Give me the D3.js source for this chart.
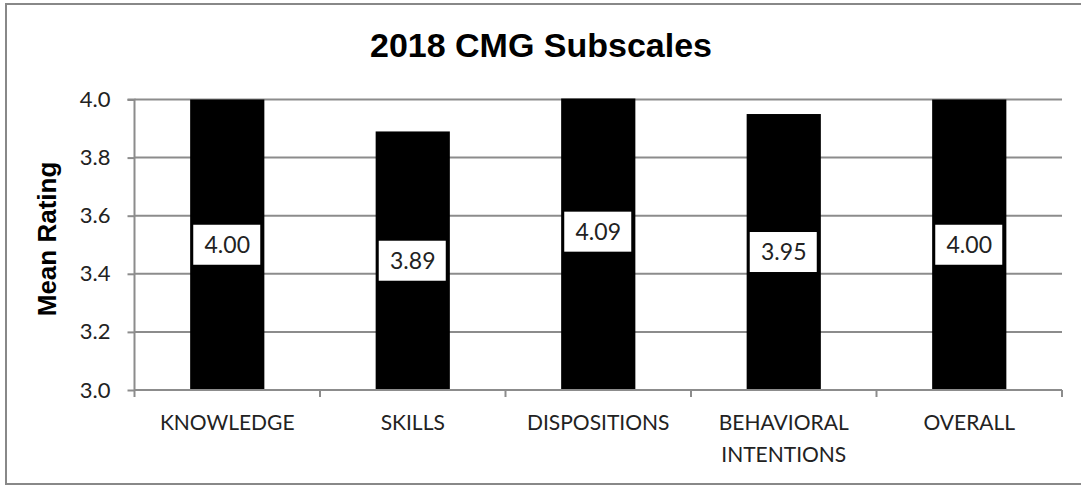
<!DOCTYPE html>
<html><head><meta charset="utf-8">
<script src="https://cdn.jsdelivr.net/npm/d3@7/dist/d3.min.js"></script>
<style>body{margin:0;background:#fff}</style>
</head><body>
<svg id="c" width="1081" height="485"></svg>
<script>
const categories = [["KNOWLEDGE"], ["SKILLS"], ["DISPOSITIONS"], ["BEHAVIORAL","INTENTIONS"], ["OVERALL"]];
const values = [4.00, 3.89, 4.09, 3.95, 4.00];
const valueLabels = ["4.00", "3.89", "4.09", "3.95", "4.00"];
const yTicks = [3.0, 3.2, 3.4, 3.6, 3.8, 4.0];
const title = "2018 CMG Subscales";
const yTitle = "Mean Rating";

const svg = d3.select("#c");
const L = 134.5, R = 1062, T = 99.5, B = 390;
const keys = categories.map((c, i) => i);
const x = d3.scaleBand().domain(keys).range([L, R]).paddingInner(0.6).paddingOuter(0.3);
const y = d3.scaleLinear().domain([3.0, 4.0]).range([B, T]);

// border
svg.append("rect").attr("x", 6).attr("y", 4).attr("width", 1080).attr("height", 480)
  .attr("fill", "#fff").attr("stroke", "#888").attr("stroke-width", 2);

// title
svg.append("text").attr("x", 541).attr("y", 57).attr("text-anchor", "middle")
  .attr("font-family", "Liberation Sans, Arial, sans-serif").attr("font-weight", "bold")
  .attr("font-size", 34).attr("fill", "#000").text(title);

// gridlines
svg.append("g").selectAll("line").data(yTicks).join("line")
  .attr("x1", L).attr("x2", R).attr("y1", d => y(d)).attr("y2", d => y(d))
  .attr("stroke", "#8c8c8c").attr("stroke-width", 2);

// bars (clipped at axis max)
svg.append("defs").append("clipPath").attr("id", "pc").append("rect")
  .attr("x", L).attr("y", T - 1).attr("width", R - L).attr("height", B - T + 1);
svg.append("g").attr("clip-path", "url(#pc)").selectAll("rect").data(values).join("rect")
  .attr("x", (d, i) => x(i)).attr("width", x.bandwidth())
  .attr("y", d => y(d)).attr("height", d => B - y(d)).attr("fill", "#000");

// y axis
const yAxis = d3.axisLeft(y).tickValues(yTicks).tickFormat(d3.format(".1f")).tickSize(7).tickPadding(17);
const gy = svg.append("g").attr("transform", `translate(${L},0)`).call(yAxis);
gy.select(".domain").attr("stroke", "#8c8c8c").attr("stroke-width", 2).attr("d", `M-7,${T}H0V${B}`);
gy.selectAll(".tick line").attr("stroke", "#8c8c8c").attr("stroke-width", 2);
gy.selectAll(".tick text").attr("font-family", "Lato, Open Sans, sans-serif").attr("font-size", 22).attr("fill", "#222");

// x axis
const gx = svg.append("g").attr("transform", `translate(0,${B})`);
gx.append("line").attr("x1", L).attr("x2", R).attr("y1", 0).attr("y2", 0).attr("stroke", "#8c8c8c").attr("stroke-width", 2);
const bounds = d3.range(categories.length + 1).map(i => L + i * (R - L) / categories.length);
gx.selectAll("line.t").data(bounds).join("line").attr("class", "t")
  .attr("x1", d => d).attr("x2", d => d).attr("y1", 0).attr("y2", 7)
  .attr("stroke", "#8c8c8c").attr("stroke-width", 2);
const xl = gx.selectAll("text.c").data(categories).join("text").attr("class", "c")
  .attr("text-anchor", "middle").attr("font-family", "Lato, Open Sans, sans-serif")
  .attr("font-size", 21).attr("fill", "#222");
xl.each(function(lines, i) {
  const t = d3.select(this);
  lines.forEach((ln, j) => t.append("tspan").attr("x", x(i) + x.bandwidth() / 2).attr("y", 40 + j * 32).text(ln));
});

// y title
svg.append("text").attr("transform", `translate(56,239) rotate(-90)`)
  .attr("text-anchor", "middle").attr("font-family", "Liberation Sans, Arial, sans-serif")
  .attr("font-weight", "bold").attr("font-size", 26).attr("fill", "#000").text(yTitle);

// value labels (centred on unclipped bar)
const lg = svg.append("g").selectAll("g").data(values).join("g")
  .attr("transform", (d, i) => `translate(${x(i) + x.bandwidth() / 2},${(y(d) + B) / 2})`);
lg.append("rect").attr("x", -34).attr("y", -20).attr("width", 67).attr("height", 40).attr("fill", "#fff");
lg.append("text").attr("text-anchor", "middle").attr("dy", "0.36em")
  .attr("font-family", "Lato, Open Sans, sans-serif").attr("font-size", 23).attr("fill", "#222")
  .text((d, i) => valueLabels[i]);
</script>
</body></html>
